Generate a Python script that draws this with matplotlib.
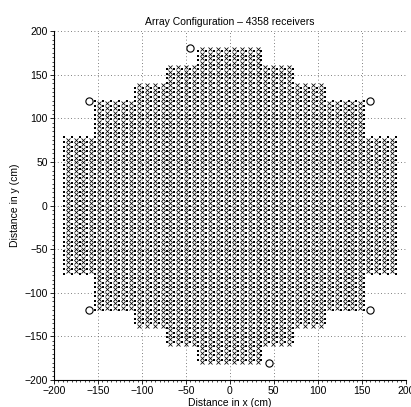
import numpy as np
import matplotlib
matplotlib.use("Agg")
import matplotlib.pyplot as plt
from matplotlib.ticker import MultipleLocator

# Array outline: stepped bands (max |y|, max |x|) in cm
band_ymax = [80, 120, 140, 160, 180]
band_xmax = [190, 155, 112, 75, 37.5]
col_spacing = 4.5      # cm between receiver columns
row_spacing = 5.2      # cm between receivers in a column (alternate columns offset by half)

# Calibration points (open circles)
cal_x = [-45, 45, -160, 160, -160, 160]
cal_y = [180, -180, 120, 120, -120, -120]

title = "Array Configuration \u2013 4358 receivers"
xlabel = "Distance in x (cm)"
ylabel = "Distance in y (cm)"
ticks = [-200, -150, -100, -50, 0, 50, 100, 150, 200]

# build receiver lattice inside the outline
cols = np.arange(-60, 61)
xs_a, ys_a, xs_b, ys_b = [], [], [], []
for c in cols:
    x = c * col_spacing
    off = 0.0 if c % 2 == 0 else row_spacing / 2
    rows = np.arange(-60, 61) * row_spacing + off
    for y in rows:
        inside = any(abs(y) <= yb and abs(x) <= xb for yb, xb in zip(band_ymax, band_xmax))
        if inside:
            if c % 2 == 0:
                xs_a.append(x); ys_a.append(y)
            else:
                xs_b.append(x); ys_b.append(y)

plt.rcParams['font.family'] = ['Liberation Sans', 'DejaVu Sans']
fig = plt.figure(figsize=(4.11, 4.07), dpi=100)
ax = fig.add_axes([0.1314, 0.0663, 0.8556, 0.8575])

ax.grid(True, which='major', linestyle=(0, (1, 3)), color='#555555', linewidth=0.6)
ax.set_axisbelow(True)
ax.plot(xs_a, ys_a, 's', color='black', markersize=1.9, markeredgewidth=0)
ax.plot(xs_b, ys_b, 'x', color='black', markersize=2.3, markeredgewidth=0.55)
ax.plot(cal_x, cal_y, 'o', markerfacecolor='white', markeredgecolor='black',
        markersize=5.2, markeredgewidth=0.8)

ax.set_xlim(-200, 200)
ax.set_ylim(-200, 200)
ax.set_xticks(ticks)
ax.set_yticks(ticks)
ax.xaxis.set_minor_locator(MultipleLocator(5))
ax.yaxis.set_minor_locator(MultipleLocator(5))
ax.tick_params(which='major', direction='out', length=3, width=0.6, labelsize=7.5, pad=1.5)
ax.tick_params(which='minor', direction='out', length=1.5, width=0.5)
ax.spines['top'].set_visible(False)
ax.spines['right'].set_visible(False)
ax.spines['left'].set_linewidth(0.8)
ax.spines['bottom'].set_linewidth(0.8)
ax.set_title(title, fontsize=7.5, pad=4)
ax.set_xlabel(xlabel, fontsize=7.5, labelpad=1)
ax.set_ylabel(ylabel, fontsize=7.5, labelpad=3)

fig.savefig("out.png", dpi=100)
